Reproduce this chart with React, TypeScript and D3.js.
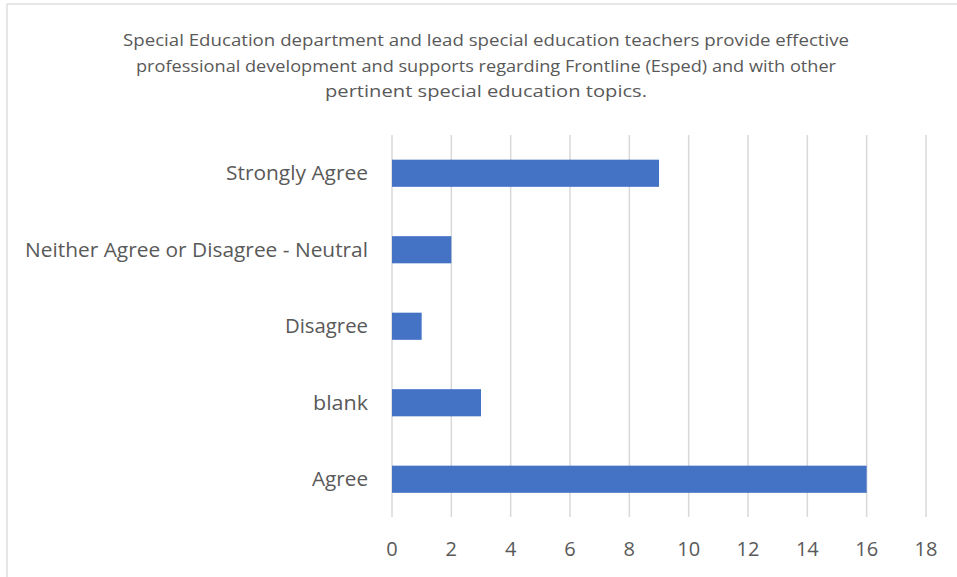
import React from "react";
import * as d3 from "d3";

const categories = ["Strongly Agree", "Neither Agree or Disagree - Neutral", "Disagree", "blank", "Agree"];
const values = [9, 2, 1, 3, 16];
const xTicks = [0, 2, 4, 6, 8, 10, 12, 14, 16, 18];
const titleLines = [
  "Special Education department and lead special education teachers provide effective",
  "professional development and supports regarding Frontline (Esped) and with other",
  "pertinent special education topics.",
];

const W = 957;
const H = 577;
const FONT = "'Open Sans', 'Liberation Sans', sans-serif";
const TEXT = "#595959";

export default function App() {
  const x = d3.scaleLinear().domain([0, 18]).range([392, 926]);
  const y = d3.scaleBand<string>().domain(categories).range([135, 517.5]).paddingInner(0.645).paddingOuter(0.3225);
  const titleWidths = [726, 700, 322];
  const labelWidths = [142, 343, 83, 55, 56];
  return (
    <svg width={W} height={H} style={{ position: "absolute", left: 0, top: 0 }} fontFamily={FONT}>
      <rect x={0} y={0} width={W} height={H} fill="#fff" />
      <rect x={7} y={4} width={W + 20} height={H + 20} fill="#fff" stroke="#d9d9d9" strokeWidth={1.3} />
      {titleLines.map((t, i) => (
        <text key={i} x={486} y={46 + i * 25.5} textAnchor="middle" fontSize={17} fill={TEXT}
          textLength={titleWidths[i]} lengthAdjust="spacingAndGlyphs">{t}</text>
      ))}
      {xTicks.map((t) => (
        <g key={t}>
          <line x1={x(t)} x2={x(t)} y1={135} y2={517} stroke="#d9d9d9" strokeWidth={1.5} />
          <text x={x(t)} y={556} textAnchor="middle" fontSize={20} fill={TEXT}>{t}</text>
        </g>
      ))}
      {categories.map((c, i) => (
        <g key={c}>
          <rect x={x(0)} y={y(c)!} width={x(values[i]) - x(0)} height={y.bandwidth()} fill="#4472C4" />
          <text x={368} y={y(c)! + y.bandwidth() / 2} dy="0.35em" textAnchor="end" fontSize={19.5} fill={TEXT}
            textLength={labelWidths[i]} lengthAdjust="spacingAndGlyphs">{c}</text>
        </g>
      ))}
    </svg>
  );
}
